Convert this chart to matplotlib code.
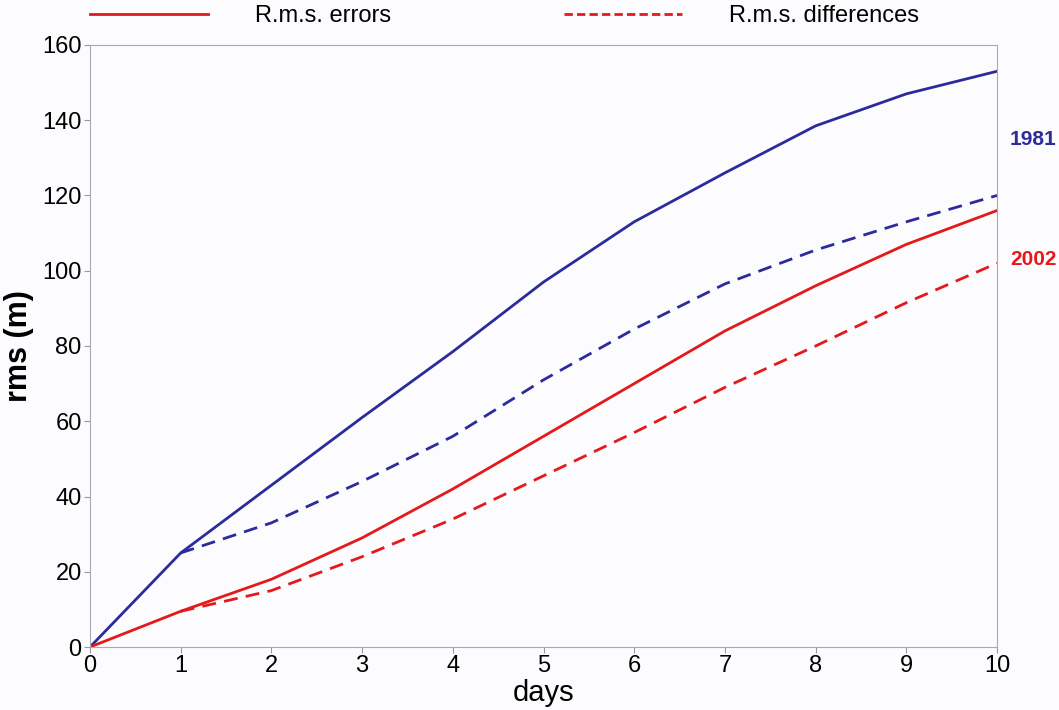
import matplotlib.pyplot as plt
from matplotlib.lines import Line2D

# data
days = [0, 1, 2, 3, 4, 5, 6, 7, 8, 9, 10]
err_1981 = [0, 25, 43, 61, 78.5, 97, 113, 126, 138.5, 147, 153]
err_2002 = [0, 9.5, 18, 29, 42, 56, 70, 84, 96, 107, 116]
diff_days = [1, 2, 3, 4, 5, 6, 7, 8, 9, 10]
diff_1981 = [25, 33, 44, 56, 71, 84.5, 96.5, 105.5, 113, 120]
diff_2002 = [9.5, 15, 24, 34, 45.5, 57, 69, 80, 91.5, 102]

blue = '#2b2b9c'
red = '#e3191c'
bg = '#fcfbfd'

plt.rcParams['font.family'] = ['Liberation Sans Narrow', 'Liberation Sans', 'DejaVu Sans']

fig = plt.figure(figsize=(10.59, 7.10), dpi=100, facecolor=bg)
ax = fig.add_axes([0.085, 0.0887, 0.8565, 0.848])
ax.set_facecolor(bg)

ax.plot(days, err_1981, color=blue, lw=2)
ax.plot(diff_days, diff_1981, color=blue, lw=2, ls=(0, (5, 3)))
ax.plot(days, err_2002, color=red, lw=2)
ax.plot(diff_days, diff_2002, color=red, lw=2, ls=(0, (5, 3)))

ax.set_xlim(0, 10)
ax.set_ylim(0, 160)
ax.set_xticks(range(0, 11))
ax.set_yticks(range(0, 161, 20))
ax.tick_params(labelsize=17, length=4, color='#999999', pad=2)
for s in ax.spines.values():
    s.set_color('#aaaaaa')

ax.set_xlabel('days', fontsize=21, labelpad=1)
ax.set_ylabel('rms (m)', fontsize=22, fontweight='bold', labelpad=6)

ax.text(10.4, 135, '1981', color=blue, fontsize=15, fontweight='bold', ha='center', va='center')
ax.text(10.4, 103, '2002', color=red, fontsize=15, fontweight='bold', ha='center', va='center')

handles = [Line2D([], [], color=red, lw=2),
           Line2D([], [], color=red, lw=2, ls=(0, (3, 1.5)))]
ax.legend(handles, ['R.m.s. errors', 'R.m.s. differences'], loc='lower left',
          bbox_to_anchor=(0.0, 1.03), ncol=2, frameon=False, fontsize=17,
          handlelength=5.0, handletextpad=2.0, columnspacing=7.3, borderaxespad=0,
          borderpad=0)

fig.savefig('out.png', dpi=100, facecolor=bg)
